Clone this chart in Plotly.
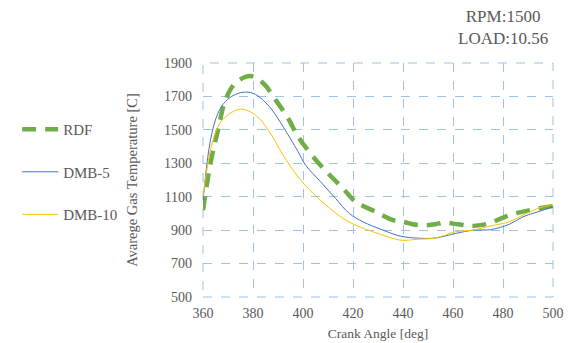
import plotly.graph_objects as go

angle_rdf = [360, 363, 366, 369, 373, 379, 384, 389, 394, 398, 404, 410, 416, 421, 429, 436, 440, 446, 453, 456, 462, 467, 471, 475, 480, 485, 491, 500]
temp_rdf = [1020, 1300, 1500, 1680, 1780, 1822, 1780, 1680, 1570, 1460, 1340, 1240, 1150, 1070, 1010, 960, 950, 930, 935, 945, 935, 925, 930, 943, 975, 1000, 1020, 1045]

angle_dmb5 = [360, 363, 366, 369, 373, 377, 381, 386.5, 392, 398, 401, 407, 413, 418.5, 424, 432, 439, 446, 453, 461, 468, 475, 482.5, 488, 494, 500]
temp_dmb5 = [1075, 1440, 1600, 1670, 1712, 1726, 1712, 1640, 1520, 1370, 1290, 1190, 1090, 1000, 950, 900, 864, 852, 853, 880, 900, 903, 935, 980, 1010, 1040]

angle_dmb10 = [360, 363, 366, 369, 375, 381, 386.5, 392, 398, 404, 410, 416, 421, 430, 439, 446, 453, 461, 468, 475, 482.5, 488, 494, 500]
temp_dmb10 = [1100, 1379, 1520, 1578, 1624, 1588, 1490, 1350, 1220, 1120, 1040, 970, 930, 880, 840, 846, 853, 890, 900, 925, 950, 990, 1030, 1055]

x_ticks = [360, 380, 400, 420, 440, 460, 480, 500]
y_ticks = [500, 700, 900, 1100, 1300, 1500, 1700, 1900]

FONT = "Liberation Serif"
GRAY = "#595959"
GRID = "#9DC3E6"

fig = go.Figure()
fig.add_trace(go.Scatter(x=angle_rdf, y=temp_rdf, mode="lines", name="RDF",
                         line=dict(color="#70AD47", width=4.5, dash="14px,9px", shape="spline"),
                         legendgroup="a"))
fig.add_trace(go.Scatter(x=angle_dmb5, y=temp_dmb5, mode="lines", name="DMB-5",
                         line=dict(color="#4472C4", width=1, shape="spline"),
                         legendgroup="b"))
fig.add_trace(go.Scatter(x=angle_dmb10, y=temp_dmb10, mode="lines", name="DMB-10",
                         line=dict(color="#FFC000", width=1, shape="spline"),
                         legendgroup="c"))

fig.update_layout(
    width=570, height=343,
    margin=dict(l=203, r=17, t=63, b=46),
    plot_bgcolor="white", paper_bgcolor="white",
    font=dict(family=FONT, color=GRAY, size=15),
    legend=dict(x=-0.531, y=0.534, xanchor="left", yanchor="middle",
                tracegroupgap=20, itemwidth=36, font=dict(family=FONT, size=15, color=GRAY),
                bgcolor="rgba(0,0,0,0)"),
    xaxis=dict(range=[360, 500], tickvals=x_ticks, showgrid=True, gridcolor=GRID,
               griddash="dash", gridwidth=1, zeroline=False, showline=False,
               automargin=False,
               tickfont=dict(family=FONT, size=14, color=GRAY), ticks="",
               ticklabelstandoff=6,
               title=dict(text="Crank Angle [deg]", font=dict(family=FONT, size=13.5, color=GRAY), standoff=8)),
    yaxis=dict(range=[500, 1900], tickvals=y_ticks, showgrid=True, gridcolor=GRID,
               griddash="dash", gridwidth=1, zeroline=False, showline=False,
               automargin=False,
               tickfont=dict(family=FONT, size=14, color=GRAY), ticks="",
               ticklabelstandoff=10,
               title=dict(text="Avarege Gas Temperature [C]", font=dict(family=FONT, size=14.5, color=GRAY), standoff=22)),
    annotations=[dict(text="RPM:1500<br>LOAD:10.56", xref="paper", yref="paper",
                      x=(503 - 203) / 350, y=1.0, yshift=13, xanchor="center", yanchor="bottom",
                      showarrow=False, align="center", font=dict(family=FONT, size=17, color=GRAY))],
)
fig.add_shape(type="rect", xref="paper", yref="paper", x0=0, y0=0, x1=1, y1=1,
              line=dict(color=GRID, width=1, dash="dash"), layer="below")

fig.write_html("out.html", config={"displayModeBar": False},
               post_script="document.body.style.margin='0';")
